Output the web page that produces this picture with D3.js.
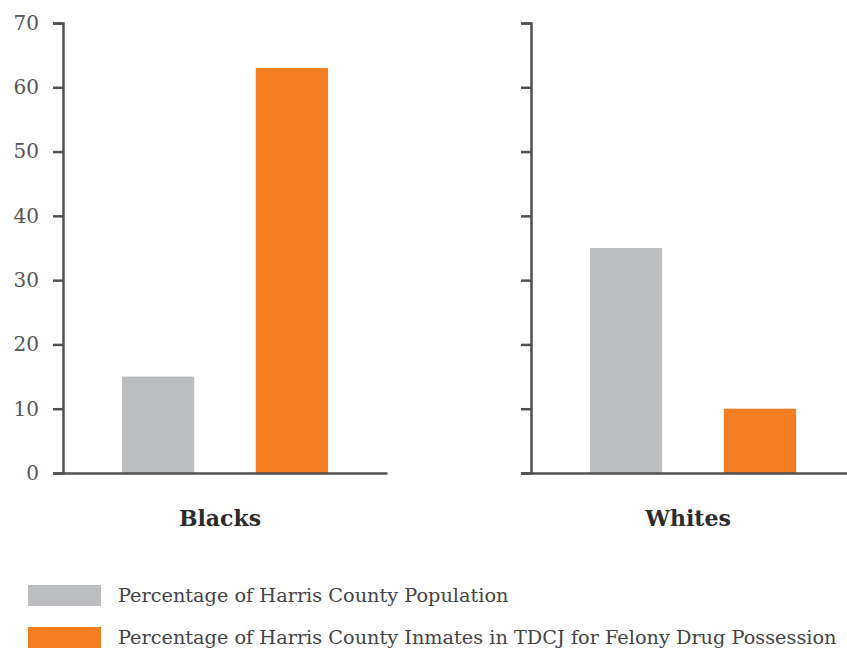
<!DOCTYPE html>
<html>
<head>
<meta charset="utf-8">
<script src="https://cdn.jsdelivr.net/npm/d3@7"></script>
<style>
  body { margin: 0; background: #fff; }
  .axis path, .axis line { stroke: #505050; stroke-width: 2.5; }
  .axis text { font-family: "DejaVu Serif", serif; font-size: 20px; fill: #555; }
</style>
</head>
<body>
<div id="chart"></div>
<script>

// data
var categories = ["Blacks", "Whites"];
var seriesNames = [
    "Percentage of Harris County Population",
    "Percentage of Harris County Inmates in TDCJ for Felony Drug Possession"
];
var populationPct = [15, 35];
var inmatesPct = [63, 10];
var yTicks = [0, 10, 20, 30, 40, 50, 60, 70];

var colors = ["#BCBDC1", "#F37E22"];

var width = 847, height = 651;
var plotTop = 23, plotBottom = 473;
var panelX = [63, 531];
var panelW = 324;

var svg = d3.select("#chart").append("svg")
    .attr("width", width)
    .attr("height", height);

var y = d3.scaleLinear()
    .domain([0, 70])
    .range([plotBottom, plotTop]);

var seriesValues = [populationPct, inmatesPct];

categories.forEach(function(cat, i) {
    var x = d3.scaleBand()
        .domain(seriesNames)
        .range([panelX[i], panelX[i] + panelW])
        .paddingInner(0.46)
        .paddingOuter(0.44);

    var g = svg.append("g");

    // bars
    g.selectAll(".bar")
        .data(seriesNames)
        .enter().append("rect")
        .attr("class", "bar")
        .attr("x", function(d) { return x(d); })
        .attr("width", x.bandwidth())
        .attr("y", function(d, j) { return y(seriesValues[j][i]); })
        .attr("height", function(d, j) { return plotBottom - y(seriesValues[j][i]); })
        .attr("fill", function(d, j) { return colors[j]; });

    // baseline
    var xAxis = d3.axisBottom(x).tickSize(0).tickSizeOuter(0).tickFormat("");
    g.append("g")
        .attr("class", "axis")
        .attr("transform", "translate(0," + plotBottom + ")")
        .call(xAxis);

    // y axis (labels only on the left panel)
    var yAxis = d3.axisLeft(y)
        .tickValues(yTicks)
        .tickSize(10)
        .tickSizeOuter(10)
        .tickPadding(14);
    if (i > 0) yAxis.tickFormat("");
    g.append("g")
        .attr("class", "axis")
        .attr("transform", "translate(" + panelX[i] + ",0)")
        .call(yAxis);

    g.append("text")
        .attr("x", panelX[i] + panelW / 2 - 5)
        .attr("y", 526)
        .attr("text-anchor", "middle")
        .attr("font-family", "DejaVu Serif, serif")
        .attr("font-weight", "bold")
        .attr("font-size", 22)
        .attr("fill", "#2b2b2b")
        .text(cat);
});

// legend
var legend = svg.selectAll(".legend")
    .data(seriesNames)
    .enter().append("g")
    .attr("class", "legend")
    .attr("transform", function(d, i) { return "translate(28," + (585 + i * 42) + ")"; });

legend.append("rect")
    .attr("width", 73)
    .attr("height", 21)
    .attr("fill", function(d, i) { return colors[i]; });

legend.append("text")
    .attr("x", 90)
    .attr("y", 17)
    .attr("font-family", "DejaVu Serif, serif")
    .attr("font-size", 19.3)
    .attr("fill", "#444")
    .text(function(d) { return d; });

</script>
</body>
</html>
